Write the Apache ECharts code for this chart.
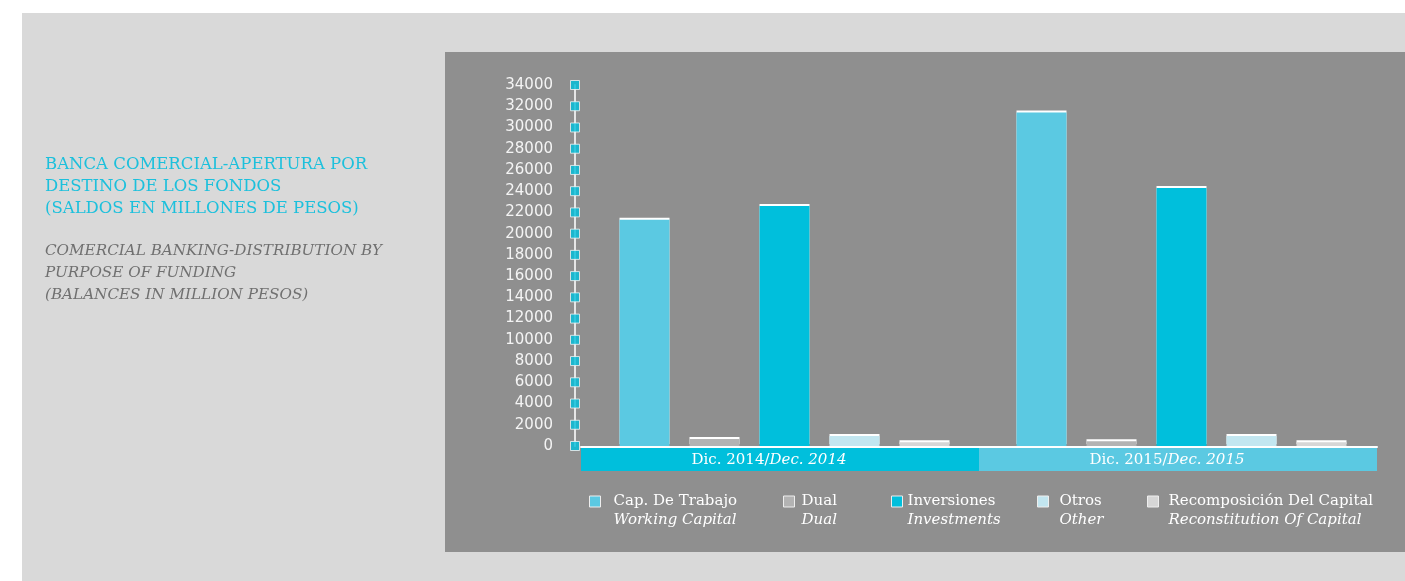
<!DOCTYPE html>
<html>
<head>
<meta charset="utf-8">
<script src="https://cdn.jsdelivr.net/npm/echarts@6/dist/echarts.min.js"></script>
<style>
  html, body { margin: 0; padding: 0; background: #ffffff; }
  #chart { width: 1405px; height: 581px; }
</style>
</head>
<body>
<div id="chart"></div>
<script>
// Balances by purpose of funding, million pesos
const periods = ['Dic. 2014', 'Dic. 2015'];
const periodsEn = ['Dec. 2014', 'Dec. 2015'];
const capTrabajo = [21300, 31400];
const dual = [650, 450];
const inversiones = [22600, 24300];
const otros = [950, 950];
const recomposicion = [350, 350];
const yTicks = [0, 2000, 4000, 6000, 8000, 10000, 12000, 14000, 16000, 18000, 20000,
  22000, 24000, 26000, 28000, 30000, 32000, 34000];

const seriesDefs = [
  { name: 'Cap. De Trabajo', en: 'Working Capital', data: capTrabajo, color: '#5bc9e2', legendLeft: 589, textPad: 8 },
  { name: 'Dual', en: 'Dual', data: dual, color: '#b3b3b3', legendLeft: 783, textPad: 2 },
  { name: 'Inversiones', en: 'Investments', data: inversiones, color: '#00bfdc', legendLeft: 891, textPad: 0 },
  { name: 'Otros', en: 'Other', data: otros, color: '#c2e6f0', legendLeft: 1037, textPad: 6 },
  { name: 'Recomposición Del Capital', en: 'Reconstitution Of Capital', data: recomposicion, color: '#d6d6d6', legendLeft: 1147, textPad: 5 }
];
const bandColors = ['#00bfdc', '#5bc9e2'];

const chart = echarts.init(document.getElementById('chart'), null, { renderer: 'canvas' });

const SERIF = '"DejaVu Serif", serif';

const barSeries = seriesDefs.map(d => ({
  type: 'bar',
  name: d.name,
  xAxisIndex: 0,
  yAxisIndex: 0,
  data: d.data,
  barWidth: 50,
  barGap: '40%',
  itemStyle: {
    color: d.color,
    shadowColor: '#ffffff',
    shadowBlur: 0,
    shadowOffsetY: -2
  },
  emphasis: { disabled: true }
}));

const legends = seriesDefs.map(d => ({
  data: [d.name],
  left: d.legendLeft,
  top: 494,
  padding: 0,
  icon: 'rect',
  itemWidth: 11,
  itemHeight: 11,
  selectedMode: false,
  itemStyle: { borderColor: '#eeeeee', borderWidth: 1, shadowColor: 'rgba(0,0,0,0)', shadowBlur: 0, shadowOffsetY: 0 },
  formatter: n => '{a|' + n + '}\n{b|' + d.en + '}',
  textStyle: {
    padding: [19, 0, 0, d.textPad],
    rich: {
      a: { fontFamily: SERIF, fontSize: 15, color: '#ffffff', lineHeight: 19 },
      b: { fontFamily: SERIF, fontSize: 15, fontStyle: 'italic', color: '#ffffff', lineHeight: 19 }
    }
  }
}));

const option = {
  animation: false,
  backgroundColor: '#ffffff',
  graphic: [
    { type: 'rect', z: -10, shape: { x: 22, y: 13, width: 1383, height: 568 }, style: { fill: '#d9d9d9' } },
    { type: 'rect', z: -9, shape: { x: 445, y: 52, width: 960, height: 500 }, style: { fill: '#8f8f8f' } }
  ],
  title: [
    {
      left: 45, top: 154, padding: 0,
      text: 'BANCA COMERCIAL-APERTURA POR\nDESTINO DE LOS FONDOS\n(SALDOS EN MILLONES DE PESOS)',
      textStyle: { fontFamily: SERIF, fontSize: 16.5, fontWeight: 'normal', color: '#1cc0dc', lineHeight: 22 }
    },
    {
      left: 45, top: 240, padding: 0,
      text: 'COMERCIAL BANKING-DISTRIBUTION BY\nPURPOSE OF FUNDING\n(BALANCES IN MILLION PESOS)',
      textStyle: { fontFamily: SERIF, fontSize: 15.2, fontWeight: 'normal', fontStyle: 'italic', color: '#707070', lineHeight: 22 }
    }
  ],
  legend: legends,
  grid: [
    // bars
    { left: 586, width: 794, top: 85, height: 361 },
    // square tick markers on the value axis
    { left: 569, width: 12, top: 85, height: 361 },
    // period band under the bars
    { left: 581, width: 796, top: 447, height: 24 }
  ],
  xAxis: [
    { gridIndex: 0, type: 'category', data: periods, axisLine: { show: false }, axisTick: { show: false }, axisLabel: { show: false } },
    { gridIndex: 1, type: 'value', min: -1, max: 1, show: false },
    {
      gridIndex: 2, type: 'category', data: periods, position: 'top',
      axisLine: { show: true, onZero: false, lineStyle: { color: '#ffffff', width: 2 } },
      axisTick: { show: false }, axisLabel: { show: false }, z: 5
    }
  ],
  yAxis: [
    {
      gridIndex: 0, type: 'value', min: 0, max: 34000, interval: 2000, offset: 11,
      axisLine: { show: true, lineStyle: { color: '#e6e6e6', width: 2 } },
      axisTick: { show: false },
      splitLine: { show: false },
      axisLabel: {
        color: '#f4f4f4', fontFamily: '"DejaVu Sans", sans-serif', fontSize: 15, margin: 22,
        formatter: v => String(v)
      }
    },
    { gridIndex: 1, type: 'value', min: 0, max: 34000, show: false },
    { gridIndex: 2, type: 'value', min: 0, max: 1, show: false }
  ],
  series: barSeries.concat([
    {
      type: 'scatter',
      xAxisIndex: 1, yAxisIndex: 1,
      data: yTicks.map(v => [0, v]),
      symbol: 'rect',
      symbolSize: 9,
      itemStyle: { color: '#00bfdc', borderColor: '#f2f2f2', borderWidth: 1 },
      z: 10,
      emphasis: { disabled: true }
    },
    {
      type: 'bar',
      xAxisIndex: 2, yAxisIndex: 2,
      barWidth: '100%',
      data: periods.map((p, i) => ({ value: 1, itemStyle: { color: bandColors[i] } })),
      label: {
        show: true,
        position: 'inside',
        padding: [2, 22, 0, 0],
        formatter: p => '{r|' + periods[p.dataIndex] + '/}{i|' + periodsEn[p.dataIndex] + '}',
        rich: {
          r: { fontFamily: SERIF, fontSize: 15, color: '#ffffff' },
          i: { fontFamily: SERIF, fontSize: 15, fontStyle: 'italic', color: '#ffffff' }
        }
      },
      emphasis: { disabled: true }
    }
  ])
};

chart.setOption(option);
</script>
</body>
</html>
